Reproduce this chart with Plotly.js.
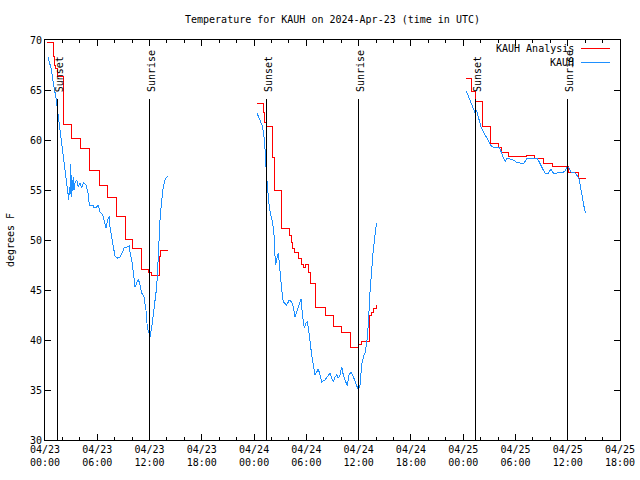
<!DOCTYPE html>
<html>
<head>
<meta charset="utf-8">
<script src="https://cdn.plot.ly/plotly-3.0.1.min.js"></script>
<style>
html,body{margin:0;padding:0;background:#fff;}
#chart{width:640px;height:480px;}
#chart path.js-line, #chart .shapelayer path { shape-rendering: crispEdges; }
</style>
</head>
<body>
<div id="chart"></div>
<script>
// ---- data (hours after 2024-04-23 00:00 UTC) ----
const startUTC = Date.UTC(2024, 3, 23, 0, 0, 0);
const chartTitle = "Temperature for KAUH on 2024-Apr-23 (time in UTC)";
const yTitle = "degrees F";
const analysisName = "KAUH Analysis";
const obsName = "KAUH";

const anaHours = [0.2,0.95,1.05,1.15,1.4,2.07,3.05,4.05,5.1,6.25,7.15,8.15,9.2,10.1,11.1,11.9,12.2,13.1,13.3,14.1,
  19,
  24.33,25.1,25.25,25.4,26.14,26.37,27.2,28.12,28.3,28.43,28.66,29.12,29.44,29.67,29.9,30.19,30.45,31.01,32.25,33.09,34.06,35.01,36.0,36.3,37.19,37.5,37.7,38.07,
  43,
  48.33,49.0,49.39,50.16,51.16,52.05,52.38,53.17,55.25,56.19,57.25,58.2,60.09,61.21,62.1];
const anaTemps = [69.8,68.4,67.5,67.2,66.4,61.6,60.2,59.2,57.0,55.5,54.3,52.4,50.1,49.2,47.1,46.8,46.5,48.4,49.0,49.0,
  null,
  63.7,62.8,61.8,61.4,58.3,55.0,51.2,50.5,49.8,49.2,48.8,48.2,47.6,47.3,47.6,46.8,45.7,43.3,42.5,41.4,40.8,39.3,39.6,39.9,42.5,42.8,43.2,43.5,
  null,
  66.2,64.9,63.9,61.4,59.7,59.3,58.8,58.4,58.5,58.2,57.7,57.4,56.8,56.2,56.2];

const obsHours = [0.34,0.49,0.72,0.88,1.11,1.26,1.38,1.49,1.76,1.95,2.15,2.33,2.53,2.64,2.72,2.79,2.87,2.96,3.04,3.25,3.33,3.44,3.64,3.82,4.02,4.21,4.40,4.71,4.97,5.08,5.48,5.66,5.93,6.12,6.31,6.62,6.77,7.00,7.20,7.38,7.46,7.66,7.84,8.03,8.34,8.61,8.92,9.10,9.38,9.68,9.76,9.95,10.14,10.33,10.53,10.71,10.90,11.10,11.36,11.59,11.74,11.90,12.05,12.25,12.43,12.63,12.82,13.00,13.20,13.40,13.58,13.77,14.06,
  19,
  24.33,24.53,24.71,24.91,25.10,25.22,25.29,25.40,25.52,25.68,25.86,26.06,26.25,26.37,26.43,26.52,26.63,26.78,26.89,27.05,27.17,27.35,27.74,28.04,28.32,28.50,28.70,28.96,29.19,29.38,29.58,29.76,29.96,30.11,30.22,30.42,30.61,30.80,30.99,31.19,31.37,31.57,31.76,32.14,32.52,32.71,32.91,33.09,33.29,33.48,33.67,33.86,34.06,34.24,34.44,34.70,34.89,35.12,35.32,35.58,35.78,35.96,36.16,36.35,36.54,36.73,36.93,37.11,37.30,37.50,37.68,38.05,
  43,
  48.36,48.55,48.75,48.93,49.13,49.32,49.51,49.70,49.90,50.08,50.39,50.65,50.93,51.23,51.42,51.69,52.19,52.38,52.57,52.84,53.07,53.34,53.72,54.10,54.52,54.98,55.36,56.44,56.74,57.01,57.39,57.77,58.08,58.34,58.80,59.03,59.34,59.69,59.95,60.18,60.34,60.83,61.10,61.33,61.52,61.72,61.90,62.06];
const obsTemps = [68.3,67.7,67.1,66.1,65.1,64.2,63.4,62.4,60.7,59.4,58.1,57.1,55.7,54.7,54.0,55.3,54.5,57.6,54.3,56.3,55.0,55.7,56.0,55.3,55.7,55.2,55.7,55.5,54.6,53.5,53.5,53.2,53.3,53.5,52.8,52.5,52.0,51.2,52.0,52.4,51.3,50.2,49.0,48.4,48.2,48.3,48.8,49.3,49.3,49.4,48.8,48.0,46.8,45.3,45.7,46.1,45.5,44.7,44.3,43.0,41.3,40.8,40.3,41.3,42.7,43.7,45.3,48.3,52.0,54.0,55.3,56.0,56.4,
  null,
  62.7,62.3,62.0,61.5,60.7,59.8,58.7,56.8,55.2,53.8,52.7,52.0,51.0,49.5,47.5,47.7,48.2,48.7,47.7,46.0,45.0,43.8,43.5,44.0,43.8,43.3,42.3,43.0,43.7,44.1,42.3,41.2,41.7,41.8,41.3,39.5,38.5,37.5,36.5,36.8,37.1,36.5,35.8,36.0,36.4,36.7,36.2,35.8,36.3,36.5,36.2,36.5,37.3,36.5,36.0,35.4,36.5,36.8,36.5,35.8,35.3,35.0,35.5,37.5,38.3,38.7,39.7,41.5,44.7,47.0,49.0,51.7,
  null,
  64.9,64.5,64.0,63.7,63.2,62.8,63.0,62.5,61.8,61.2,60.7,60.3,59.9,59.4,59.3,59.3,59.2,58.7,58.3,57.9,58.2,58.1,58.0,57.8,57.7,57.7,58.2,58.2,57.8,57.3,56.7,56.7,57.1,56.7,56.7,56.8,56.7,56.9,57.3,57.2,56.8,56.7,56.4,56.0,55.0,54.0,53.2,52.7];

const sunsetHours = [1.41, 25.37, 49.36];
const sunriseHours = [11.94, 35.93, 59.92];
const sunLineTop = 64.1;
const yRange = [30, 70];
const xRangeHours = [0, 66];

// ---- helpers ----
function toDate(h) {
  if (h === null) return null;
  return new Date(startUTC + h * 3600e3).toISOString().replace('T', ' ').slice(0, 19);
}

const FONT = "DejaVu Sans Mono, monospace";
const RED = "#ff0000";
const BLUE = "#1e90ff";

const traces = [
  {
    x: anaHours.map(toDate), y: anaTemps, name: analysisName,
    type: "scatter", mode: "lines", line: {color: RED, width: 1, shape: "hv"},
    connectgaps: false, showlegend: false, hoverinfo: "x+y"
  },
  {
    x: obsHours.map(toDate), y: obsTemps, name: obsName,
    type: "scatter", mode: "lines", line: {color: BLUE, width: 1},
    connectgaps: false, showlegend: false, hoverinfo: "x+y"
  }
];

const shapes = [];
const annotations = [];
function addSun(h, label) {
  const t = toDate(h);
  shapes.push({type: "line", xref: "x", yref: "y", x0: t, x1: t, y0: yRange[0], y1: sunLineTop,
    line: {color: "#000", width: 1}});
  annotations.push({xref: "x", yref: "y", x: t, y: 64.7, text: label, textangle: -90,
    showarrow: false, xanchor: "center", yanchor: "bottom", xshift: 2, borderpad: 0,
    font: {family: FONT, size: 10, color: "#000"}});
}
sunsetHours.forEach(h => addSun(h, "Sunset"));
sunriseHours.forEach(h => addSun(h, "Sunrise"));

// legend (top-right, text right-aligned, sample to the right) in plot-area fractions
const legendItems = [[analysisName, RED, 48.5], [obsName, BLUE, 62]];
legendItems.forEach(([name, color, py]) => {
  const yp = (440 - py) / 400;
  annotations.push({xref: "paper", yref: "paper", x: (575 - 45) / 575, y: yp, xanchor: "right", yanchor: "middle",
    text: name, showarrow: false, borderpad: 0, font: {family: FONT, size: 10, color: "#000"}});
  shapes.push({type: "line", xref: "paper", yref: "paper",
    x0: (581 - 45) / 575, x1: (610 - 45) / 575, y0: yp, y1: yp,
    line: {color: color, width: 1}});
});

const layout = {
  width: 640, height: 480,
  margin: {l: 45, r: 20, t: 40, b: 40},
  paper_bgcolor: "#fff", plot_bgcolor: "#fff",
  font: {family: FONT, size: 10, color: "#000"},
  title: {text: chartTitle, xref: "paper", x: 0.5, xanchor: "center", y: 1 - 19 / 480, yanchor: "middle", yref: "container",
    font: {family: FONT, size: 10, color: "#000"}},
  showlegend: false,
  xaxis: {
    type: "date", range: xRangeHours.map(toDate),
    tick0: toDate(0), dtick: 6 * 3600e3, tickformat: "%m/%d<br>%H:%M",
    ticks: "inside", ticklen: 6, tickcolor: "#000", tickwidth: 1,
    minor: {dtick: 2 * 3600e3, ticks: "inside", ticklen: 3, tickcolor: "#000", showgrid: false},
    showline: true, linecolor: "#000", linewidth: 1, mirror: "ticks",
    showgrid: false, zeroline: false,
    tickfont: {family: FONT, size: 10, color: "#000"}
  },
  yaxis: {
    range: yRange, dtick: 5, tick0: 30,
    ticks: "inside", ticklen: 6, tickcolor: "#000", tickwidth: 1,
    showline: true, linecolor: "#000", linewidth: 1, mirror: "ticks",
    showgrid: false, zeroline: false,
    tickfont: {family: FONT, size: 10, color: "#000"},
    title: {text: yTitle, standoff: 13, font: {family: FONT, size: 10, color: "#000"}}
  },
  shapes: shapes,
  annotations: annotations
};

Plotly.newPlot("chart", traces, layout, {displayModeBar: false, staticPlot: true});
</script>
</body>
</html>
